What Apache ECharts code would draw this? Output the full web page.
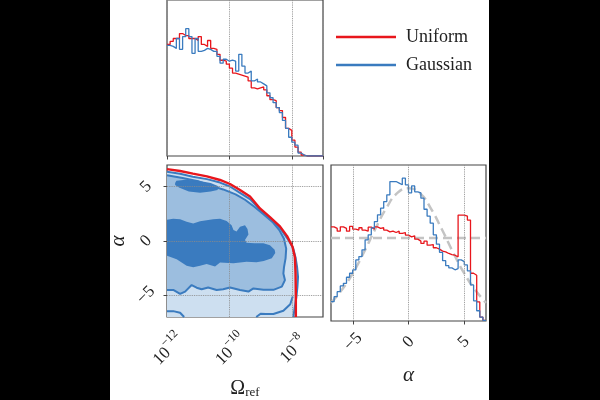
<!DOCTYPE html>
<html>
<head>
<meta charset="utf-8">
<script src="https://cdn.jsdelivr.net/npm/echarts@6/dist/echarts.min.js"></script>
<style>
  html, body { margin: 0; padding: 0; background: #000; }
  #paper { position: absolute; left: 110px; top: 0; width: 379px; height: 400px; background: #fff; }
  #chart { position: absolute; left: 0; top: 0; width: 600px; height: 400px; }
</style>
</head>
<body>
<div id="paper"></div>
<div id="chart"></div>
<script>
// log10(Omega_ref) histograms, bins of 0.1 from -12
var omegaStart = -12, omegaWidth = 0.1;
var omegaUniform = [113, 116, 119, 119, 124, 122, 122, 119, 119, 117, 121, 113, 111, 117, 109, 108, 103, 97, 96, 93,
    89, 84, 83, 82, 81, 80, 76, 69, 68, 69, 70, 67, 61, 57, 56, 49, 46, 39, 28, 26, 16, 9, 4, 1, 0, 0, 0, 0, 0, 0];
var omegaGaussian = [112, 111, 109, 119, 108, 121, 129, 121, 104, 119, 106, 107, 109, 108, 106, 106, 101, 94, 98, 96,
    97, 96, 86, 103, 91, 84, 86, 76, 78, 75, 73, 71, 64, 59, 54, 49, 44, 36, 28, 19, 14, 11, 3, 1, 0, 0, 0, 0, 0, 0];

// alpha histograms, bins of 0.28 from -7
var alphaStart = -7, alphaWidth = 0.28;
var alphaUniform = [0.0809, 0.0795, 0.0772, 0.0809, 0.0795, 0.0772, 0.0812, 0.0789, 0.0781, 0.0801,
    0.0781, 0.0772, 0.0806, 0.0789, 0.0809, 0.0795, 0.0801, 0.0781, 0.0766, 0.0772,
    0.0760, 0.0772, 0.0752, 0.0760, 0.0738, 0.0723, 0.0732, 0.0703, 0.0686, 0.0666,
    0.0686, 0.0651, 0.0657, 0.0629, 0.0617, 0.0600, 0.0594, 0.0580, 0.0571, 0.0565,
    0.0551, 0.0910, 0.0910, 0.0901, 0.0867, 0.0410, 0.0393, 0.0164, 0.0034, 0.0006];
var alphaGaussian = [0.0166, 0.0209, 0.0252, 0.0301, 0.0324, 0.0376, 0.0410, 0.0439, 0.0525, 0.0553,
    0.0611, 0.0697, 0.0740, 0.0800, 0.0854, 0.0912, 0.0969, 0.1026, 0.1084, 0.1198,
    0.1198, 0.1184, 0.1170, 0.1227, 0.1170, 0.1100, 0.1160, 0.1110, 0.1100, 0.1055,
    0.0960, 0.0900, 0.0840, 0.0740, 0.0660, 0.0590, 0.0518, 0.0475, 0.0456, 0.0440,
    0.0450, 0.0525, 0.0510, 0.0482, 0.0430, 0.0310, 0.0173, 0.0088, 0.0033, 0.0005];

// priors on alpha
var priorAlpha = [-7, -6, -5, -4, -3, -2, -1, 0, 1, 2, 3, 4, 5, 6, 7];
var priorGauss = [0.0155, 0.027, 0.0415, 0.0595, 0.079, 0.097, 0.110, 0.114, 0.110, 0.097, 0.079, 0.0595, 0.0415, 0.027, 0.0155];
var priorFlat = 0.0714;

// 2D contours (log10 Omega_ref, alpha), Gaussian run
var outerLine = [[-12, 6.37], [-11.58, 6.19], [-11.17, 5.92], [-10.72, 5.70], [-10.30, 5.38], [-9.98, 5.02],
    [-9.66, 4.44], [-9.34, 3.86], [-9.02, 2.9], [-8.70, 2.1], [-8.38, 1.2], [-8.15, 0.27], [-7.96, -0.63],
    [-7.88, -1.52], [-7.83, -2.42], [-7.80, -3.32], [-7.82, -4.22], [-7.85, -5.11], [-7.90, -6.01], [-7.95, -7]];
var middleLine = [[-12, 6.05], [-11.5, 5.8], [-11.0, 5.5], [-10.6, 5.1], [-10.2, 4.75], [-9.8, 4.3], [-9.5, 3.8],
    [-9.2, 3.15], [-8.9, 2.45], [-8.6, 1.7], [-8.4, 1.0], [-8.25, 0.2], [-8.18, -0.7], [-8.2, -1.6], [-8.25, -2.4],
    [-8.27, -3.0], [-8.22, -3.6], [-8.32, -4.2], [-8.59, -4.5], [-8.91, -4.5], [-9.23, -4.37], [-9.39, -4.66],
    [-9.66, -4.51], [-9.98, -4.28], [-10.20, -4.45], [-10.41, -4.51], [-10.68, -4.28], [-10.89, -4.45],
    [-11.05, -4.3], [-11.21, -4.06], [-11.42, -4.66], [-11.58, -4.87], [-11.8, -4.51], [-12, -4.51]];
var bottomLineA = [[-12, -6.46], [-11.8, -6.46], [-11.58, -6.61], [-11.45, -7]];
var bottomLineB = [[-9.14, -7], [-9.0, -6.7], [-8.84, -6.73], [-8.59, -6.73], [-8.27, -6.43], [-8.05, -5.83], [-7.97, -5.11]];
var coreBlob = [[-12, 1.95], [-11.80, 2.06], [-11.58, 2.0], [-11.37, 1.77], [-11.16, 1.61], [-10.94, 1.82],
    [-10.73, 1.91], [-10.52, 2.0], [-10.30, 2.06], [-10.09, 1.85], [-9.93, 1.46], [-9.87, 1.01], [-9.77, 0.87],
    [-9.66, 1.32], [-9.5, 1.45], [-9.42, 1.1], [-9.39, 0.6], [-9.5, 0.1], [-9.45, -0.15], [-9.2, -0.2],
    [-8.91, -0.2], [-8.7, -0.4], [-8.55, -0.8], [-8.53, -1.1], [-8.64, -1.6], [-8.9, -1.85], [-9.13, -1.95],
    [-9.45, -1.9], [-9.87, -2.06], [-10.30, -1.97], [-10.46, -2.36], [-10.73, -2.12], [-10.94, -2.27],
    [-11.16, -2.42], [-11.37, -2.27], [-11.69, -1.68], [-12, -1.37]];
var coreIsland = [[-11.74, 5.35], [-11.7, 5.55], [-11.4, 5.65], [-11.0, 5.55], [-10.6, 5.35], [-10.35, 5.05],
    [-10.38, 4.7], [-10.6, 4.55], [-10.94, 4.45], [-11.3, 4.55], [-11.6, 4.9], [-11.74, 5.15]];
// Uniform run, outer contour
var uniformLine = [[-12, 6.62], [-11.58, 6.45], [-11.17, 6.2], [-10.72, 5.95], [-10.30, 5.62], [-9.98, 5.25],
    [-9.66, 4.7], [-9.34, 4.1], [-9.02, 3.0], [-8.70, 2.2], [-8.38, 1.35], [-8.15, 0.45], [-7.98, -0.5],
    [-7.90, -1.5], [-7.88, -3], [-7.87, -5], [-7.87, -7]];

var RED = '#e8161c', BLUE = '#3a7bbf';
var SERIF = '"Liberation Serif", "DejaVu Serif", serif';

function stepData(start, width, values) {
    var pts = values.map(function (v, i) { return [start + i * width, v]; });
    pts.push([start + values.length * width, values[values.length - 1]]);
    pts.push([start + values.length * width, 0]);
    return pts;
}
function minus(v) { return String(v).replace('-', '\u2212'); }

function polygon(name, pts, color, z) {
    return {
        name: name, type: 'custom', xAxisIndex: 1, yAxisIndex: 1, z: z, silent: true,
        data: [[pts[0][0], pts[0][1]]],
        renderItem: function (params, api) {
            return {
                type: 'polygon',
                shape: { points: pts.map(function (p) { return api.coord(p); }) },
                style: { fill: color }
            };
        }
    };
}
function contour(name, pts, color, width, z) {
    return {
        name: name, type: 'line', xAxisIndex: 1, yAxisIndex: 1, z: z, silent: true,
        data: pts, showSymbol: false, lineStyle: { color: color, width: width }, itemStyle: { color: color }
    };
}
function hist(name, start, width, values, color, xi) {
    return {
        name: name, type: 'line', step: 'end', xAxisIndex: xi, yAxisIndex: xi, z: 4,
        data: stepData(start, width, values), showSymbol: false,
        lineStyle: { color: color, width: 1.3 }, itemStyle: { color: color }
    };
}
var dotted = { type: 'dotted', color: '#8a8a8a', width: 0.9 };
var tick = { show: true, inside: false, length: 3.5, lineStyle: { color: '#444', width: 1 } };

var lightFill = outerLine.concat([[-12, -7]]);
var midFill = middleLine;

var option = {
    animation: false,
    legend: {
        data: ['Uniform', 'Gaussian'], orient: 'vertical', left: 331, top: 22,
        icon: 'rect', itemWidth: 60, itemHeight: 2.5, itemGap: 8,
        textStyle: { fontFamily: SERIF, fontSize: 18, color: '#222', lineHeight: 20, padding: [0, 0, 0, 5] }
    },
    grid: [
        { left: 167, top: -2, width: 156, height: 158, show: true, borderColor: '#444', borderWidth: 1.2 },
        { left: 167, top: 165, width: 156, height: 156, show: true, borderColor: '#444', borderWidth: 1.2 },
        { left: 331, top: 165, width: 155, height: 156, show: true, borderColor: '#444', borderWidth: 1.2 }
    ],
    xAxis: [
        { type: 'value', gridIndex: 0, min: -12, max: -7, interval: 2, axisLine: { show: false },
          axisTick: tick, axisLabel: { show: false }, splitLine: { show: true, lineStyle: dotted } },
        { type: 'value', gridIndex: 1, min: -12, max: -7, interval: 2, axisLine: { show: false },
          axisTick: tick, splitLine: { show: false },
          axisLabel: { rotate: 45, align: 'center', verticalAlign: 'middle', margin: 31, showMaxLabel: false,
              formatter: function (v) { return '{b|10}{s|' + minus(v) + '}'; },
              rich: { b: { fontFamily: SERIF, fontSize: 17, color: '#222', verticalAlign: 'bottom', lineHeight: 22 },
                      s: { fontFamily: SERIF, fontSize: 12, color: '#222', verticalAlign: 'top', lineHeight: 22 } } },
          name: '{o|\u03a9}{r|ref}', nameLocation: 'middle', nameGap: 62,
          nameTextStyle: { rich: { o: { fontFamily: SERIF, fontSize: 20, color: '#222', verticalAlign: 'top', lineHeight: 20 },
                                   r: { fontFamily: SERIF, fontSize: 13, color: '#222', verticalAlign: 'bottom', lineHeight: 20 } } } },
        { type: 'value', gridIndex: 2, min: -7, max: 7, axisLine: { show: false }, splitLine: { show: false },
          axisTick: { show: true, length: 3.5, lineStyle: { color: '#444' }, customValues: [-5, 0, 5] },
          axisLabel: { customValues: [-5, 0, 5], rotate: 45, align: 'center', verticalAlign: 'middle', margin: 21,
              fontFamily: SERIF, fontSize: 17, color: '#222', formatter: minus },
          name: '\u03b1', nameLocation: 'middle', nameGap: 44,
          nameTextStyle: { fontFamily: SERIF, fontStyle: 'italic', fontSize: 21, color: '#222' } }
    ],
    yAxis: [
        { type: 'value', gridIndex: 0, min: 0, max: 158, show: false },
        { type: 'value', gridIndex: 1, min: -7, max: 7, axisLine: { show: false }, splitLine: { show: false },
          axisTick: { show: true, length: 3.5, lineStyle: { color: '#444' }, customValues: [-5, 0, 5] },
          axisLabel: { customValues: [-5, 0, 5], rotate: 45, align: 'center', verticalAlign: 'middle', margin: 21,
              fontFamily: SERIF, fontSize: 17, color: '#222', formatter: minus },
          name: '\u03b1', nameLocation: 'middle', nameGap: 38, nameRotate: 90,
          nameTextStyle: { fontFamily: SERIF, fontStyle: 'italic', fontSize: 21, color: '#222' } },
        { type: 'value', gridIndex: 2, min: 0, max: 0.134, show: false }
    ],
    series: [
        hist('Uniform', omegaStart, omegaWidth, omegaUniform, RED, 0),
        hist('Gaussian', omegaStart, omegaWidth, omegaGaussian, BLUE, 0),

        polygon('fill3', lightFill, '#cddff0', 1),
        polygon('fill2', midFill, '#9cbedf', 2),
        polygon('fill1a', coreBlob, BLUE, 3),
        polygon('fill1b', coreIsland, BLUE, 3),
        contour('c3', outerLine, BLUE, 2, 4),
        contour('c2', middleLine, BLUE, 2, 4),
        contour('c3a', bottomLineA, BLUE, 2, 4),
        contour('c3b', bottomLineB, BLUE, 2, 4),
        (function () {
            var s = contour('cu', uniformLine, RED, 2.4, 5);
            s.markLine = {
                silent: true, symbol: ['none', 'none'], label: { show: false }, lineStyle: dotted,
                data: [{ xAxis: -10 }, { xAxis: -8 }, { yAxis: -5 }, { yAxis: 0 }, { yAxis: 5 }]
            };
            return s;
        })(),

        {
            name: 'priorGauss', type: 'line', xAxisIndex: 2, yAxisIndex: 2, z: 3, smooth: true, showSymbol: false,
            data: priorAlpha.map(function (a, i) { return [a, priorGauss[i]]; }),
            lineStyle: { color: '#c4c4c4', width: 2.5, type: [9, 5] },
            markLine: {
                silent: true, symbol: ['none', 'none'], label: { show: false }, lineStyle: dotted,
                data: [{ xAxis: -5 }, { xAxis: 0 }, { xAxis: 5 }]
            }
        },
        {
            name: 'priorFlat', type: 'line', xAxisIndex: 2, yAxisIndex: 2, z: 3, showSymbol: false,
            data: [[-7, priorFlat], [7, priorFlat]],
            lineStyle: { color: '#c4c4c4', width: 2.5, type: [9, 5] }
        },
        hist('Uniform', alphaStart, alphaWidth, alphaUniform, RED, 2),
        hist('Gaussian', alphaStart, alphaWidth, alphaGaussian, BLUE, 2)
    ]
};

var chart = echarts.init(document.getElementById('chart'));
chart.setOption(option);
</script>
</body>
</html>
